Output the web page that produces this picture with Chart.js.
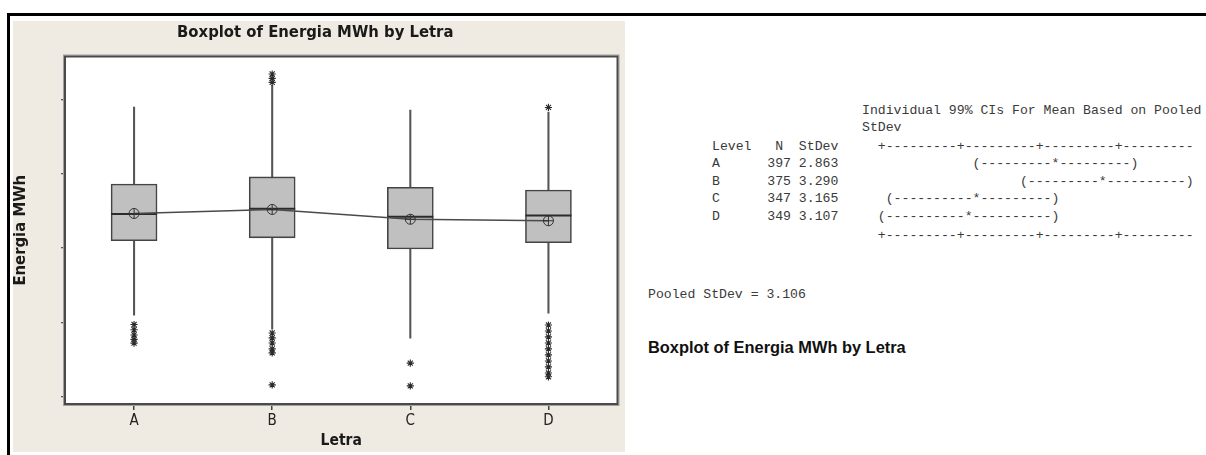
<!DOCTYPE html>
<html>
<head>
<meta charset="utf-8">
<script src="https://cdn.jsdelivr.net/npm/chart.js@4.4.1/dist/chart.umd.min.js"></script>
<style>
  html, body { margin: 0; padding: 0; background: #ffffff; }
  body { width: 1206px; height: 455px; position: relative; overflow: hidden; }
  #edgeTop { position: absolute; left: 7px; top: 13px; right: 0; height: 3px; background: #000; }
  #edgeLeft { position: absolute; left: 7px; top: 13px; width: 3px; bottom: 0; background: #000; }
  #panel { position: absolute; left: 13px; top: 21px; width: 612px; height: 431px; background: #efebe2; }
  #panel canvas { position: absolute; left: 0; top: 0; }
  .mono { position: absolute; margin: 0; white-space: pre; color: #3a3a3a;
          font: 13.17px "Liberation Mono", "Courier New", monospace; line-height: 16px; }
  #heading { position: absolute; left: 648px; top: 338px; margin: 0; color: #111;
             font: bold 16.4px "Liberation Sans", Arial, sans-serif; line-height: 18px; white-space: nowrap; }
</style>
</head>
<body>
<div id="edgeTop"></div>
<div id="edgeLeft"></div>
<div id="panel"><canvas id="box" width="612" height="431"></canvas></div>
<div id="session"></div>
<div class="mono" id="pooled" style="left:648px; top:287px;"></div>
<div id="heading">Boxplot of Energia MWh by Letra</div>

<script>
// Energy (MWh) by letter group
const categories = ['A', 'B', 'C', 'D'];
const q1 = [10.49, 10.69, 9.94, 10.36];
const q3 = [14.31, 14.79, 14.09, 13.91];
const medians = [12.29, 12.64, 12.11, 12.20];
const means = [12.33, 12.60, 11.94, 11.84];
const whiskerLow = [5.49, 4.55, 3.93, 5.61];
const whiskerHigh = [19.50, 20.96, 19.29, 19.16];
const outliersA = [4.85, 4.50, 4.15, 3.85, 3.60];
const outliersB = [21.72, 21.43, 21.16, 4.28, 3.95, 3.61, 3.21, 2.94, 0.79];
const outliersC = [2.25, 0.72];
const outliersD = [19.47, 4.82, 4.42, 4.02, 3.61, 3.21, 2.81, 2.40, 2.00, 1.59, 1.33];
const yTicks = [0, 5, 10, 15, 20];

// One-way ANOVA summary per level
const levels = ['A', 'B', 'C', 'D'];
const nObs = [397, 375, 347, 349];
const stDevs = [2.863, 3.290, 3.165, 3.107];
const ciBars = ['(---------*---------)', '(---------*----------)', '(----------*---------)', '(----------*----------)'];
const ciCols = [33, 39, 22, 21];
const pooledStDev = 3.106;

// ---- session text ----
const axisLine = '+---------+---------+---------+---------';
const lines = [];
lines.push(' '.repeat(19) + 'Individual 99% CIs For Mean Based on Pooled');
lines.push(' '.repeat(19) + 'StDev');
lines.push('Level   N  StDev'.padEnd(21) + axisLine);
levels.forEach((lv, i) => {
  const left = lv.padEnd(7) + String(nObs[i]).padStart(3) + ' ' + stDevs[i].toFixed(3);
  lines.push(left.padEnd(ciCols[i]) + ciBars[i]);
});
lines.push(' '.repeat(21) + axisLine);
const lineY = [111, 128, 146.5, 164, 181.5, 199, 216.5, 236];
const session = document.getElementById('session');
lines.forEach((txt, i) => {
  const d = document.createElement('div');
  d.className = 'mono';
  d.style.left = '712px';
  d.style.top = (lineY[i] - 8) + 'px';
  d.textContent = txt;
  session.appendChild(d);
});
document.getElementById('pooled').textContent = 'Pooled StDev = ' + pooledStDev.toFixed(3);

// ---- box plot ----
const outlierPoints = [];
[outliersA, outliersB, outliersC, outliersD].forEach((arr, i) => {
  arr.forEach(v => outlierPoints.push({ x: categories[i], y: v }));
});

const narrowFont = '"Liberation Sans Narrow", "DejaVu Sans Condensed", "Liberation Sans", sans-serif';

const boxDecor = {
  id: 'boxDecor',
  beforeDatasetsDraw(chart) {
    const { ctx, chartArea: a } = chart;
    ctx.save();
    ctx.fillStyle = '#ffffff';
    ctx.fillRect(a.left, a.top, a.right - a.left, a.bottom - a.top);
    ctx.restore();
  },
  afterDatasetDraw(chart, args) {
    if (chart.data.datasets[args.index].label !== 'Box') return;
    const { ctx, scales: { y } } = chart;
    ctx.save();
    ctx.strokeStyle = '#2b2b2b';
    ctx.lineWidth = 2;
    args.meta.data.forEach((bar, i) => {
      const yy = y.getPixelForValue(medians[i]);
      ctx.beginPath();
      ctx.moveTo(bar.x - bar.width / 2, yy);
      ctx.lineTo(bar.x + bar.width / 2, yy);
      ctx.stroke();
    });
    ctx.restore();
  },
  afterDraw(chart) {
    const { ctx, chartArea: a } = chart;
    ctx.save();
    ctx.strokeStyle = '#a0a0a0';
    ctx.lineWidth = 1;
    ctx.strokeRect(a.left - 1.5, a.top - 1.5, a.right - a.left + 3, a.bottom - a.top + 3);
    ctx.strokeStyle = '#4a4a4a';
    ctx.lineWidth = 2;
    ctx.strokeRect(a.left, a.top, a.right - a.left, a.bottom - a.top);
    ctx.restore();
  }
};

new Chart(document.getElementById('box'), {
  type: 'bar',
  data: {
    labels: categories,
    datasets: [
      {
        label: 'Whisker',
        data: categories.map((c, i) => [whiskerLow[i], whiskerHigh[i]]),
        backgroundColor: '#555555',
        borderWidth: 0,
        barThickness: 1.4,
        grouped: false,
        order: 5
      },
      {
        label: 'Box',
        data: categories.map((c, i) => [q1[i], q3[i]]),
        backgroundColor: '#c0c0c0',
        borderColor: '#444444',
        borderWidth: 1.6,
        borderSkipped: false,
        barThickness: 46,
        grouped: false,
        order: 4
      },
      {
        label: 'Mean',
        type: 'line',
        data: means,
        borderColor: '#4a4a4a',
        borderWidth: 1.6,
        pointStyle: 'circle',
        pointRadius: 5,
        pointBorderWidth: 1,
        pointBorderColor: '#333333',
        pointBackgroundColor: 'rgba(0,0,0,0)',
        tension: 0,
        order: 2
      },
      {
        label: 'MeanCross',
        type: 'line',
        data: means,
        showLine: false,
        pointStyle: 'cross',
        pointRadius: 5,
        pointBorderWidth: 1,
        pointBorderColor: '#333333',
        order: 1
      },
      {
        label: 'Outliers',
        type: 'line',
        data: outlierPoints,
        showLine: false,
        pointStyle: 'star',
        pointRadius: 3.6,
        pointBorderWidth: 1.1,
        pointBorderColor: '#2a2a2a',
        order: 0
      }
    ]
  },
  options: {
    responsive: false,
    animation: false,
    devicePixelRatio: 1,
    layout: { padding: { left: 0, right: 7.5, top: 0, bottom: 0 } },
    plugins: {
      legend: { display: false },
      tooltip: { enabled: false },
      title: {
        display: true,
        text: 'Boxplot of Energia MWh by Letra',
        color: '#1a1a1a',
        font: { family: narrowFont, size: 16.5, weight: 'bold', lineHeight: 1.2 },
        padding: { top: 2.1, bottom: 13.6 }
      }
    },
    scales: {
      x: {
        type: 'category',
        offset: true,
        border: { display: false },
        grid: { display: true, offset: false, drawOnChartArea: false, drawTicks: true, tickLength: 6, color: '#444444', lineWidth: 1.5 },
        ticks: { color: '#222222', padding: 2, font: { family: narrowFont, size: 15 } },
        title: {
          display: true, text: 'Letra', color: '#1a1a1a',
          font: { family: narrowFont, size: 15.5, weight: 'bold', lineHeight: 1.2 },
          padding: { top: 0, bottom: 1.7 }
        },
        afterFit(scale) { scale.height = 48; }
      },
      y: {
        min: -0.5,
        max: 22.9,
        border: { display: false },
        grid: { display: true, drawOnChartArea: false, drawTicks: true, tickLength: 4, color: '#555555', lineWidth: 1.3 },
        ticks: { callback: () => '', padding: 0 },
        afterBuildTicks(scale) { scale.ticks = yTicks.map(v => ({ value: v })); },
        title: {
          display: true, text: 'Energia MWh', color: '#1a1a1a',
          font: { family: narrowFont, size: 16.5, weight: 'bold', lineHeight: 1 },
          padding: { top: -1, bottom: 0 }
        },
        afterFit(scale) { scale.width = 52; }
      }
    }
  },
  plugins: [boxDecor]
});
</script>
</body>
</html>
